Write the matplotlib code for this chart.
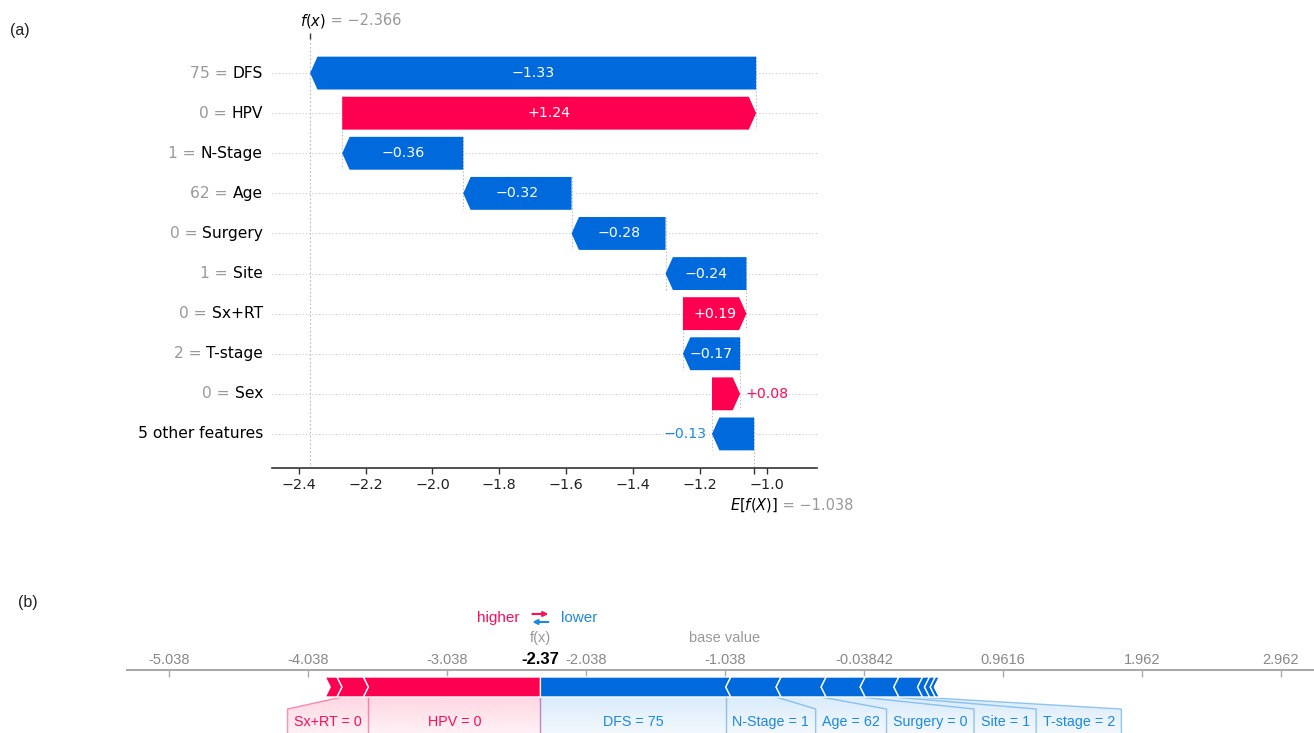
import matplotlib
matplotlib.use("Agg")
import matplotlib.pyplot as plt
from matplotlib.patches import Polygon
import numpy as np

# SHAP explanation of one patient: waterfall (a) and force plot (b)
feature_names = ["DFS", "HPV", "N-Stage", "Age", "Surgery", "Site",
                 "Sx+RT", "T-stage", "Sex", "5 other features"]
feature_values = ["75", "0", "1", "62", "0", "1", "0", "2", "0", ""]
shap_values = [-1.334, 1.238, -0.362, -0.324, -0.281, -0.242,
               0.190, -0.171, 0.084, -0.126]
base_value = -1.038

# the five remaining features, shown one by one in the force plot
other_shap = [-0.050, -0.041, -0.031, -0.003, -0.001]

waterfall_ticks = [-2.4, -2.2, -2.0, -1.8, -1.6, -1.4, -1.2, -1.0]
force_ticks = [-5.038, -4.038, -3.038, -2.038, -1.038, -0.03842, 0.9616, 1.962, 2.962]

fx = base_value + sum(shap_values)

RED = "#ff0051"
BLUE = "#0069dc"
LABEL_RED = "#ff0d57"
LABEL_BLUE = "#1e88e5"
MINUS = "\u2212"
ARIAL = "Liberation Sans"

W, H = 1314, 733
fig = plt.figure(figsize=(W / 100, H / 100), dpi=100)
renderer = fig.canvas.get_renderer()


def fmt(v):
    return ("+" if v > 0 else MINUS) + f"{abs(v):.2f}"


def two_tone(axes, xy, xycoords, offset, first, second, size):
    t1 = axes.annotate(first, xy, xycoords=xycoords, xytext=offset,
                       textcoords="offset pixels", ha="left", va="baseline",
                       fontsize=size, color="black", annotation_clip=False)
    w = t1.get_window_extent(renderer).width
    axes.annotate(second, xy, xycoords=xycoords, xytext=(offset[0] + w, offset[1]),
                  textcoords="offset pixels", ha="left", va="baseline",
                  fontsize=size, color="#999999", annotation_clip=False)


# ---------------------------------------------------------------- waterfall
ax = fig.add_axes([272 / W, 1 - 468 / H, 545 / W, 429 / H])
ax.set_xlim(-2.48, -0.85)
ax.set_ylim(-0.85, 9.85)

n = len(feature_names)
rows = np.arange(n)[::-1]
bar_h = 0.82
head = 0.022

starts = np.zeros(n)
cur = base_value
for i in range(n - 1, -1, -1):
    starts[i] = cur
    cur += shap_values[i]

ax.axvline(fx, color="#bbbbbb", ls=(0, (1.5, 2)), lw=0.8, zorder=0)
for i in range(n):
    y = rows[i]
    s, v = starts[i], shap_values[i]
    e = s + v
    d = np.sign(v) * min(head, abs(v))
    pts = [(s, y - bar_h / 2), (e - d, y - bar_h / 2), (e, y),
           (e - d, y + bar_h / 2), (s, y + bar_h / 2)]
    ax.add_patch(Polygon(pts, closed=True, fc=RED if v > 0 else BLUE, ec="none", zorder=3))
    ax.axhline(y, color="#cccccc", ls=(0, (1, 2)), lw=0.8, zorder=0)
    ax.plot([s, s], [y + 0.4, y - 1.4], color="#bbbbbb", ls=(0, (1.5, 2)), lw=0.7, zorder=1)
    if abs(v) > 0.15:
        ax.text(s + v / 2, y, fmt(v), color="white", ha="center", va="center",
                fontsize=10.2, zorder=4)
    else:
        ax.annotate(fmt(v), (e, y), xytext=(5 if v > 0 else -5, 0),
                    textcoords="offset pixels", ha="left" if v > 0 else "right",
                    va="center", fontsize=10.2,
                    color=LABEL_RED if v > 0 else LABEL_BLUE)

    # feature name in black, its value in grey in front of it
    name = ax.annotate(feature_names[i], (0, y), xycoords=ax.get_yaxis_transform(),
                       xytext=(-9, 0), textcoords="offset pixels", ha="right",
                       va="center", fontsize=11.2, color="black")
    if feature_values[i]:
        wn = name.get_window_extent(renderer).width
        ax.annotate(feature_values[i] + " =", (0, y), xycoords=ax.get_yaxis_transform(),
                    xytext=(-9 - wn - 5, 0), textcoords="offset pixels", ha="right",
                    va="center", fontsize=11.2, color="#999999")

for side in ["left", "right", "top"]:
    ax.spines[side].set_visible(False)
ax.spines["bottom"].set_color("#333333")
ax.spines["bottom"].set_linewidth(1.2)
ax.set_yticks([])
ax.set_xticks(waterfall_ticks)
ax.set_xticks([base_value], minor=True)
ax.tick_params(axis="x", which="both", length=4, width=1, color="#333333",
               labelcolor="#222222", labelsize=10.4, pad=3.5)

# f(x) marker on top
ax_top = ax.twiny()
ax_top.set_xlim(ax.get_xlim())
ax_top.set_xticks([fx])
ax_top.set_xticklabels([""])
ax_top.tick_params(axis="x", length=4, width=1, color="#333333")
for side in ["left", "right", "top", "bottom"]:
    ax_top.spines[side].set_visible(False)

two_tone(ax, (fx, 1), ax.get_xaxis_transform(), (-10, 14),
         r"$f(x)$", f" = {MINUS}{abs(fx):.3f}", 10.5)
two_tone(ax, (base_value, 0), ax.get_xaxis_transform(), (-24, -42),
         r"$E[f(X)]$", f" = {MINUS}{abs(base_value):.3f}", 10.5)

# ---------------------------------------------------------------- force plot
bx = fig.add_axes([127 / W, 0, 1 - 127 / W, 133 / H])
bx.set_xlim(-5.34, 3.2)
bx.set_ylim(133, 0)
bx.patch.set_visible(False)
for side in ["left", "right", "bottom"]:
    bx.spines[side].set_visible(False)
bx.spines["top"].set_position(("data", 70))
bx.spines["top"].set_color("#aaaaaa")
bx.spines["top"].set_linewidth(1.5)
bx.xaxis.tick_top()
bx.set_xticks(force_ticks)
bx.set_xticklabels([f"{t:.4g}" for t in force_ticks], fontfamily=ARIAL)
bx.tick_params(axis="x", direction="in", length=5, width=1, color="#aaaaaa",
               labelcolor="#888888", labelsize=10.5, pad=2)
bx.set_yticks([])

px = (W - 127) / (bx.get_xlim()[1] - bx.get_xlim()[0])
chev = 5 / px
pad = 6.5 / px
bar_top, bar_mid, bar_bot = 77, 87, 97
label_top, label_y, floor = 109, 122, 133

force_names = feature_names[:-1] + [""] * len(other_shap)
force_vals = feature_values[:-1] + [""] * len(other_shap)
force_shap = shap_values[:-1] + other_shap
pos = sorted([i for i, v in enumerate(force_shap) if v > 0], key=lambda i: -force_shap[i])
neg = sorted([i for i, v in enumerate(force_shap) if v < 0], key=lambda i: force_shap[i])

# vertical fade used for the shaded label wedges
fade = np.linspace(1, 0.35, 64).reshape(-1, 1)


def draw_side(idx, d, color, label_color):
    cur = fx
    box_cur = fx
    o = d * chev
    bx.plot([fx, fx], [bar_bot, floor], color=label_color, alpha=0.35, lw=1, zorder=2)
    for k, i in enumerate(idx):
        a = cur
        b = cur + d * abs(force_shap[i])
        cur = b
        if k == 0:
            pts = [(a, bar_top), (b + o, bar_top), (b, bar_mid), (b + o, bar_bot), (a, bar_bot)]
        else:
            pts = [(a + o, bar_top), (b + o, bar_top), (b, bar_mid), (b + o, bar_bot),
                   (a + o, bar_bot), (a, bar_mid)]
        bx.add_patch(Polygon(pts, closed=True, fc=color, ec="white", lw=1, zorder=3))
        if abs(force_shap[i]) < 0.1:
            continue
        t = bx.text(0, label_y, f"{force_names[i]} = {force_vals[i]}", color=label_color,
                    ha="center", va="center", fontsize=10.3, fontfamily=ARIAL, zorder=4)
        w = t.get_window_extent(renderer).width / px + 2 * pad
        box_in = box_cur
        box_out = box_in + d * max(d * (b - box_in), w)
        t.set_x((box_in + box_out) / 2)
        shade = Polygon([(a, bar_bot), (b, bar_bot), (box_out, label_top), (box_out, floor),
                         (box_in, floor), (box_in, label_top)], closed=True,
                        fc="none", ec="none")
        bx.add_patch(shade)
        lo, hi = sorted([a, b, box_in, box_out])[0], sorted([a, b, box_in, box_out])[-1]
        img = bx.imshow(fade, cmap=matplotlib.colors.LinearSegmentedColormap.from_list(
                            "fade", ["white", label_color]),
                        vmin=0, vmax=6, extent=(lo, hi, floor, bar_bot), aspect="auto",
                        interpolation="bilinear", zorder=1)
        img.set_clip_path(shade)
        bx.plot([b, box_out, box_out], [bar_bot, label_top, floor], color=label_color,
                alpha=0.45, lw=1, zorder=2)
        box_cur = box_out


draw_side(neg, 1, BLUE, LABEL_BLUE)
draw_side(pos, -1, RED, LABEL_RED)
bx.set_xlim(-5.34, 3.2)
bx.set_ylim(133, 0)

bx.text(fx, 59, f"{fx:.3g}", ha="center", va="center", fontsize=12,
        fontweight="bold", fontfamily=ARIAL, color="black")
bx.text(fx, 38, "f(x)", ha="center", va="center", fontsize=10.5,
        fontfamily=ARIAL, color="#999999")
bx.text(base_value, 38, "base value", ha="center", va="center", fontsize=10.5,
        fontfamily=ARIAL, color="#999999")
bx.annotate("higher", (fx, 18), xytext=(-21, 0), textcoords="offset pixels",
            ha="right", va="center", fontsize=11, fontfamily=ARIAL, color=LABEL_RED)
bx.annotate("lower", (fx, 18), xytext=(21, 0), textcoords="offset pixels",
            ha="left", va="center", fontsize=11, fontfamily=ARIAL, color=LABEL_BLUE)
bx.annotate("", xy=(fx + 8 / px, 14), xytext=(fx - 8 / px, 14),
            arrowprops=dict(arrowstyle="-|>", color=LABEL_RED, lw=1.5,
                            mutation_scale=7, shrinkA=0, shrinkB=0))
bx.annotate("", xy=(fx - 8 / px, 22), xytext=(fx + 8 / px, 22),
            arrowprops=dict(arrowstyle="-|>", color=LABEL_BLUE, lw=1.5,
                            mutation_scale=7, shrinkA=0, shrinkB=0))

fig.text(20 / W, 1 - 30 / H, "(a)", ha="center", va="center", fontsize=11.5,
         fontfamily=ARIAL, color="#222222")
fig.text(28 / W, 1 - 602 / H, "(b)", ha="center", va="center", fontsize=11.5,
         fontfamily=ARIAL, color="#222222")

fig.savefig("out.png", dpi=100)
